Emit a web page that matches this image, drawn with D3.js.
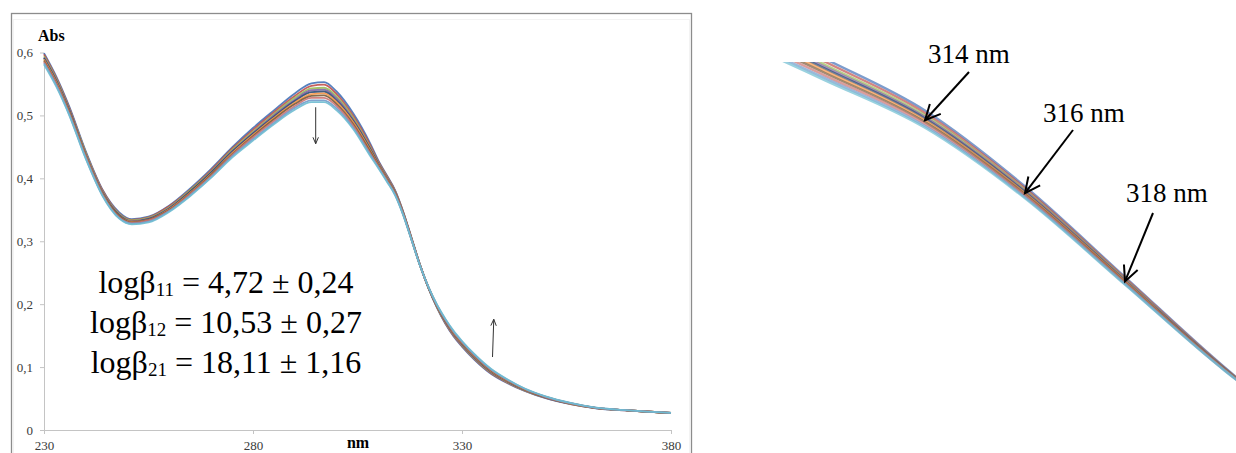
<!DOCTYPE html>
<html><head><meta charset="utf-8">
<script src="https://cdn.jsdelivr.net/npm/d3@7"></script>
<style>
body{margin:0;background:#fff}
svg{display:block}
svg text{font-family:"Liberation Serif","Times New Roman",Times,Tinos,"DejaVu Serif","Noto Serif",serif !important}
</style>
</head><body>
<svg id="chart" width="1236" height="453"></svg>
<script>
// ---------- DATA ----------
const wavelengths = [230,233,236,240,244,248,251,255,260,265,270,275,280,285,290,294,297,300,304,308,310,312,314,316,318,320,322,324,326,328,330,333,337,341,345,350,356,362,370,380];

const s0 = [.599,.561,.515,.443,.382,.346,.335,.339,.357,.384,.415,.449,.480,.508,.535,.551,.553,.538,.503,.456,.4280,.4050,.3810,.3458,.3038,.2618,.2250,.1945,.169,.1485,.1325,.1115,.089,.074,.062,.0505,.041,.0345,.0308,.0268];
const s1 = [.597,.559,.513,.441,.381,.344,.334,.338,.356,.382,.413,.447,.477,.505,.531,.547,.549,.534,.499,.453,.4263,.4036,.3799,.3450,.3033,.2615,.2253,.1952,.170,.1498,.1338,.1128,.0901,.0748,.0626,.051,.0413,.0346,.0309,.0269];
const s2 = [.594,.557,.511,.440,.379,.343,.333,.337,.354,.381,.411,.445,.474,.502,.528,.543,.544,.530,.496,.450,.4246,.4022,.3788,.3442,.3028,.2613,.2256,.1959,.171,.151,.135,.114,.0912,.0757,.0631,.0513,.0416,.0348,.031,.027];
const s3 = [.592,.555,.510,.438,.378,.342,.332,.336,.353,.379,.410,.443,.472,.500,.525,.540,.541,.527,.493,.448,.4234,.4012,.3780,.3437,.3024,.2612,.2258,.1964,.172,.1519,.1359,.1149,.092,.0763,.0635,.0516,.0418,.0349,.031,.027];
const s4 = [.591,.554,.509,.437,.377,.341,.331,.335,.352,.379,.409,.442,.471,.498,.523,.537,.538,.524,.491,.447,.4225,.4004,.3773,.3432,.3021,.2611,.2259,.1968,.173,.1526,.1366,.1156,.0927,.0768,.0638,.0519,.0419,.035,.031,.027];
const s5 = [.589,.552,.507,.436,.376,.340,.331,.334,.351,.377,.407,.440,.469,.496,.520,.534,.535,.521,.489,.445,.4213,.3994,.3765,.3427,.3018,.2609,.2261,.1973,.174,.1535,.1375,.1165,.0935,.0774,.0642,.0522,.0421,.0351,.031,.027];
const s6 = [.587,.550,.506,.435,.375,.340,.330,.334,.350,.376,.406,.438,.467,.494,.518,.531,.532,.518,.486,.443,.4201,.3984,.3757,.3421,.3014,.2608,.2263,.1978,.174,.1544,.1384,.1174,.0943,.078,.0646,.0525,.0423,.0352,.031,.027];
const s7 = [.585,.549,.504,.434,.374,.338,.329,.333,.349,.375,.404,.437,.465,.491,.515,.528,.528,.515,.483,.440,.4186,.3972,.3748,.3415,.3010,.2606,.2266,.1984,.175,.1555,.1395,.1185,.0952,.0787,.0651,.0528,.0426,.0353,.0311,.0271];
const s8 = [.583,.547,.502,.432,.373,.337,.328,.331,.348,.373,.402,.435,.462,.488,.512,.524,.524,.511,.480,.438,.4172,.3960,.3738,.3408,.3006,.2604,.2268,.1990,.176,.1566,.1406,.1196,.0962,.0794,.0656,.0532,.0428,.0354,.0311,.0271];
const s9 = [.581,.545,.501,.431,.372,.336,.327,.330,.347,.372,.401,.433,.460,.486,.509,.521,.521,.508,.478,.436,.4160,.3950,.3730,.3403,.3003,.2603,.2270,.1995,.177,.1575,.1415,.1205,.097,.080,.066,.0535,.043,.0355,.0312,.0272];

const seriesValues = [s0,s1,s2,s3,s4,s5,s6,s7,s8,s9];
const seriesColors = ["#4472b8","#c0504d","#9bbb59","#8064a2","#2c4d75","#f79646","#7a5c3a","#cd7371","#729aca","#6fbdd1"];

const xTicks = [230,280,330,380];
const yTicks = [0,0.1,0.2,0.3,0.4,0.5,0.6];
const yLabel = "Abs";
const xLabel = "nm";

const equations = [
  {base:"logβ", sub:"11", rest:" = 4,72 ± 0,24"},
  {base:"logβ", sub:"12", rest:" = 10,53 ± 0,27"},
  {base:"logβ", sub:"21", rest:" = 18,11 ± 1,16"}
];

// arrows in main panel: [nmFrom, absFrom, nmTo, absTo]
const mainArrows = [
  [295, 0.513, 295, 0.455],
  [337.3, 0.116, 337.6, 0.176]
];

const zoomMarks = [314, 316, 318];
const zoomMarkLabels = ["314 nm","316 nm","318 nm"];

// ---------- DRAW ----------
const svg = d3.select("#chart");
const SERIF = '"Liberation Serif","Times New Roman",Times,Tinos,"DejaVu Serif","Noto Serif",serif';

// panel frame
svg.append("rect").attr("x",11.5).attr("y",13.5).attr("width",680).attr("height",470)
  .attr("fill","none").attr("stroke","#8c8c8c").attr("stroke-width",1.3);
svg.append("rect").attr("x",13.5).attr("y",19.5).attr("width",676).attr("height",470)
  .attr("fill","none").attr("stroke","#f3f3f3").attr("stroke-width",1);

const x = d3.scaleLinear().domain([230,380]).range([44,671]);
const y = d3.scaleLinear().domain([0,0.6]).range([430,52.5]);

const fmt = d => d === 0 ? "0" : d3.format(".1f")(d).replace(".", ",");

const gy = svg.append("g").attr("transform","translate(44,0)")
  .call(d3.axisLeft(y).tickValues(yTicks).tickFormat(fmt).tickSize(4).tickSizeOuter(0).tickPadding(7));
const gx = svg.append("g").attr("transform","translate(0,430)")
  .call(d3.axisBottom(x).tickValues(xTicks).tickFormat(d3.format("d")).tickSize(4).tickSizeOuter(0).tickPadding(7));
[gy,gx].forEach(g=>{
  g.attr("font-family", SERIF);
  g.select(".domain").attr("stroke","#c4c4c4").attr("stroke-width",1);
  g.selectAll(".tick line").attr("stroke","#c4c4c4");
  g.selectAll(".tick text").attr("fill","#3a3a3a").style("font-size","13px");
});

svg.append("text").attr("x",38).attr("y",41).attr("font-weight","bold")
  .style("font-size","16px").text(yLabel);
svg.append("text").attr("x",358).attr("y",448).attr("text-anchor","middle").attr("font-weight","bold")
  .style("font-size","16px").text(xLabel);

const line = d3.line().curve(d3.curveMonotoneX)
  .x((d,i)=>x(wavelengths[i])).y(d=>y(d));

svg.append("g").selectAll("path").data(seriesValues).join("path")
  .attr("d", d=>line(d)).attr("fill","none")
  .attr("stroke",(d,i)=>seriesColors[i]).attr("stroke-width",1.8).attr("stroke-opacity",0.9);

// arrows
function arrow(g, x1, y1, x2, y2, len, half, width, color){
  g.append("line").attr("x1",x1).attr("y1",y1).attr("x2",x2).attr("y2",y2)
    .attr("stroke",color).attr("stroke-width",width);
  const a = Math.atan2(y2-y1, x2-x1);
  const p1 = [x2 - len*Math.cos(a-half), y2 - len*Math.sin(a-half)];
  const p2 = [x2 - len*Math.cos(a+half), y2 - len*Math.sin(a+half)];
  g.append("path").attr("d",`M${p1[0]},${p1[1]}L${x2},${y2}L${p2[0]},${p2[1]}`)
    .attr("fill","none").attr("stroke",color).attr("stroke-width",width);
}
const ga = svg.append("g");
mainArrows.forEach(a=>arrow(ga, x(a[0]), y(a[1]), x(a[2]), y(a[3]), 7, 0.4, 1, "#333"));

// equations
const eqBaselines = [293, 333, 373];
equations.forEach((e,i)=>{
  const t = svg.append("text").attr("x",226).attr("y",eqBaselines[i])
    .attr("text-anchor","middle").style("font-size","32px").attr("fill","#000");
  t.append("tspan").text(e.base);
  t.append("tspan").attr("dy",3).style("font-size","19px").text(e.sub);
  t.append("tspan").attr("dy",-3).text(e.rest);
});

// ---------- ZOOM PANEL ----------
const xz = d3.scaleLinear().domain([314,318]).range([925,1125]);
const yz = d3.scaleLinear().domain([0.378,0.302]).range([117,281]);

svg.append("clipPath").attr("id","zclip").append("rect")
  .attr("x",700).attr("y",62).attr("width",536).attr("height",391);

const zi0 = wavelengths.indexOf(304), zi1 = wavelengths.indexOf(326);
const zline = d3.line().curve(d3.curveMonotoneX)
  .x((v,i)=>xz(wavelengths[zi0+i])).y(v=>yz(v));
svg.append("g").attr("clip-path","url(#zclip)").selectAll("path")
  .data(seriesValues.map(v=>v.slice(zi0, zi1+1))).join("path")
  .attr("d", d=>zline(d))
  .attr("fill","none").attr("stroke",(d,i)=>seriesColors[i])
  .attr("stroke-width",2.4).attr("stroke-opacity",0.7);

// zoom labels and arrows
const labelPos = [[928,63,969,72],[1043,122,1073,130],[1126,202,1153,213]];
const gz = svg.append("g");
zoomMarks.forEach((nm,k)=>{
  const idx = wavelengths.indexOf(nm);
  const tx = xz(nm), ty = yz(seriesValues[5][idx]);
  const lp = labelPos[k];
  gz.append("text").attr("x",lp[0]).attr("y",lp[1]).style("font-size","27px").text(zoomMarkLabels[k]);
  arrow(gz, lp[2], lp[3], tx, ty, 17, 0.45, 2, "#000");
});
</script>
</body></html>
